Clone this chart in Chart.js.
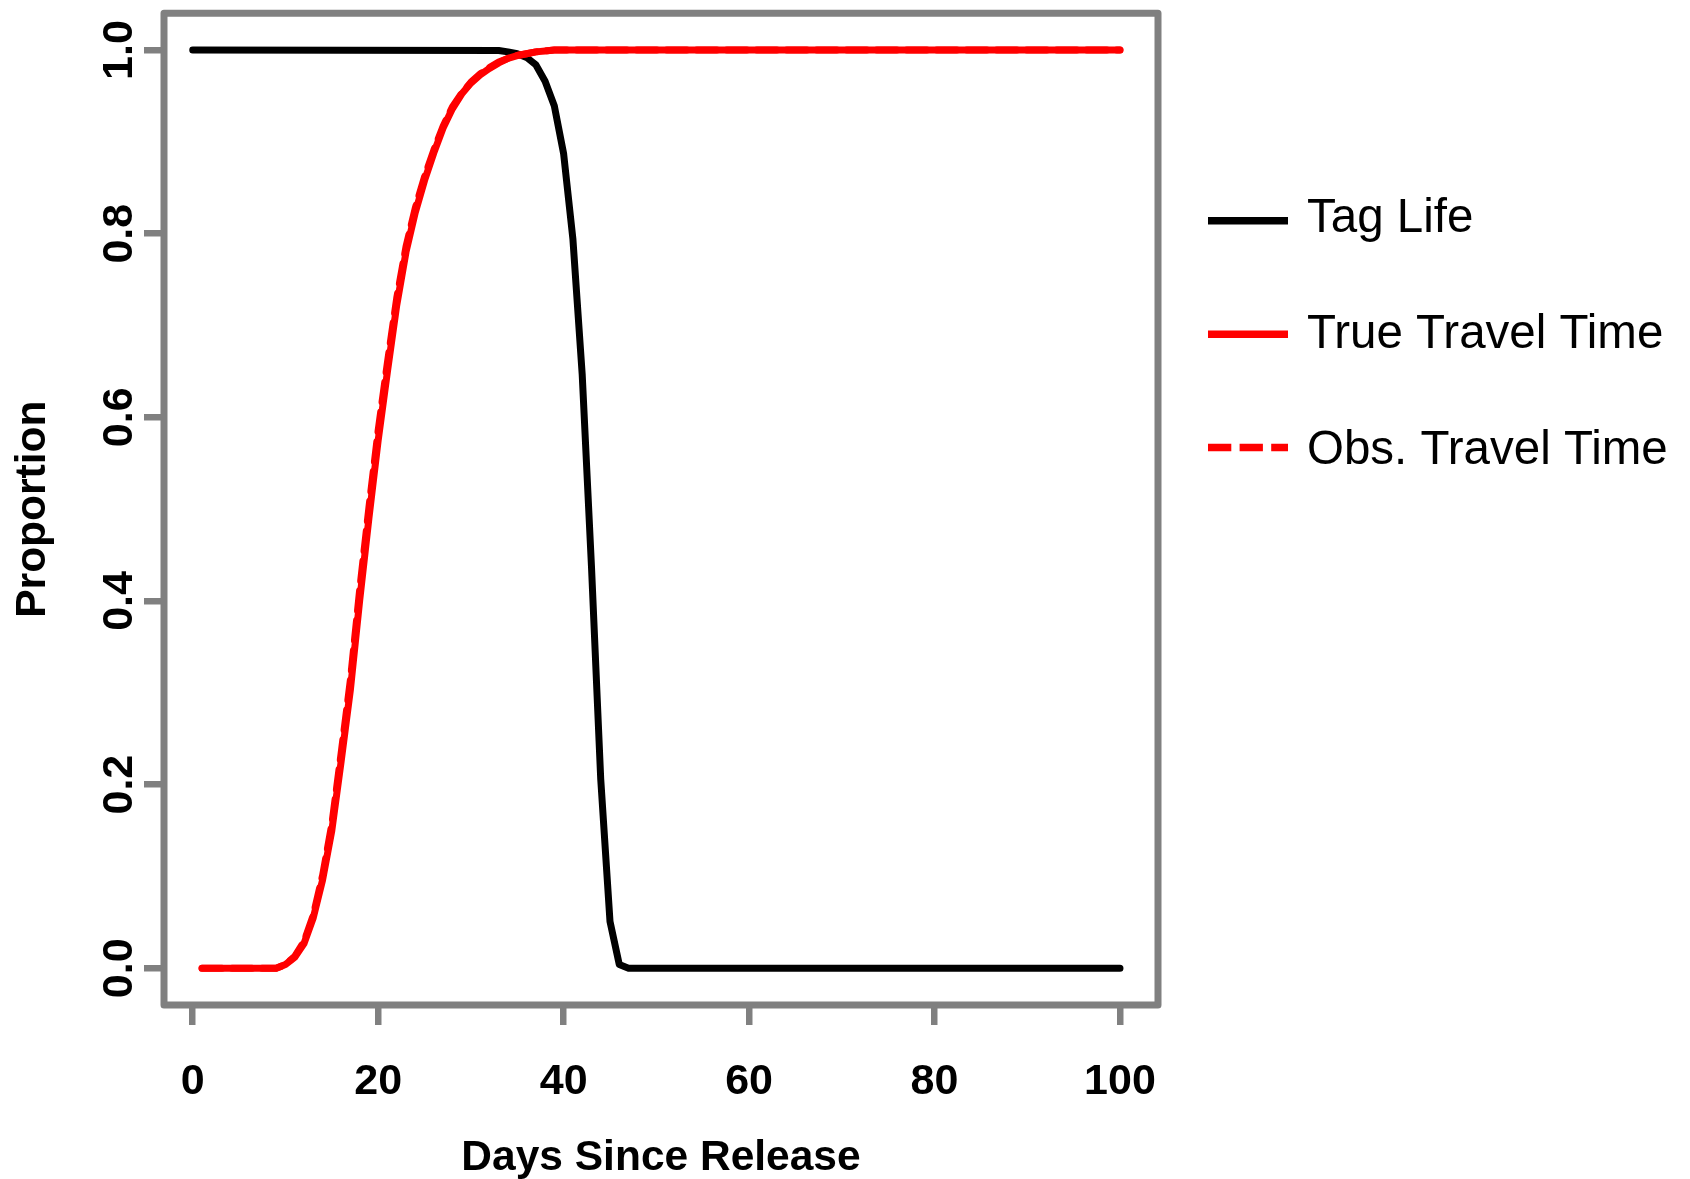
<!DOCTYPE html>
<html>
<head>
<meta charset="utf-8">
<script src="https://cdn.jsdelivr.net/npm/chart.js@4.4.1/dist/chart.umd.min.js"></script>
<style>
  html, body { margin: 0; padding: 0; background: #ffffff; }
  canvas { display: block; }
</style>
</head>
<body>
<canvas id="chart" width="1690" height="1179"></canvas>
<script>
// ---- data ----
const xTickValues = [0, 20, 40, 60, 80, 100];
const yTickValues = [0, 0.2, 0.4, 0.6, 0.8, 1.0];
const yTickLabels = ['0.0', '0.2', '0.4', '0.6', '0.8', '1.0'];
const seriesLabels = ['Tag Life', 'True Travel Time', 'Obs. Travel Time'];

const tagLifeDays   = [0, 33, 34, 35, 36, 37, 38, 39, 40, 41, 42, 43, 44, 45, 46, 47, 100];
const tagLifeValues = [1, 0.9995, 0.998, 0.996, 0.992, 0.984, 0.966, 0.939, 0.887, 0.794, 0.647, 0.438, 0.206, 0.051, 0.004, 0, 0];

const travelDays = [1, 9, 10, 11, 12, 13, 14, 15, 16, 17, 18, 19, 20, 21, 22, 23, 24, 25, 26, 27, 28, 29,
                    30, 31, 32, 33, 34, 35, 36, 37, 38, 39, 100];
const trueTravelValues = [0, 0, 0.004, 0.012, 0.027, 0.055, 0.096, 0.150, 0.225, 0.303, 0.400, 0.490, 0.575,
                          0.650, 0.722, 0.780, 0.823, 0.858, 0.888, 0.915, 0.936, 0.952, 0.964, 0.973, 0.980,
                          0.986, 0.991, 0.994, 0.996, 0.998, 0.999, 1.0, 1.0];
const obsTravelValues  = [0, 0, 0.004, 0.013, 0.029, 0.058, 0.101, 0.157, 0.234, 0.314, 0.412, 0.502, 0.586,
                          0.660, 0.730, 0.786, 0.828, 0.862, 0.891, 0.917, 0.938, 0.953, 0.965, 0.974, 0.981,
                          0.987, 0.991, 0.994, 0.996, 0.998, 0.999, 1.0, 1.0];

// ---- styling ----
const FONT = '"Liberation Sans", Arial, Helvetica, sans-serif';
const GRAY = '#808080';

function toPoints(xs, ys) { return xs.map((x, i) => ({ x: x, y: ys[i] })); }

const boxPlugin = {
  id: 'plotBox',
  beforeDatasetsDraw(chart) {
    const { ctx, chartArea: a } = chart;
    ctx.save();
    ctx.strokeStyle = GRAY;
    ctx.lineWidth = 7;
    ctx.lineJoin = 'round';
    ctx.strokeRect(a.left, a.top, a.right - a.left, a.bottom - a.top);
    ctx.restore();
  }
};

const sideLegendPlugin = {
  id: 'sideLegend',
  afterDraw(chart) {
    const ctx = chart.ctx;
    chart.data.datasets.forEach((ds, i) => {
      const ly = 220.8 + i * 113.4;
      ctx.save();
      ctx.strokeStyle = ds.borderColor;
      ctx.lineWidth = 7.5;
      ctx.lineCap = 'butt';
      ctx.setLineDash(ds.legendDash || []);
      ctx.beginPath();
      ctx.moveTo(1208, ly);
      ctx.lineTo(1288, ly);
      ctx.stroke();
      ctx.setLineDash([]);
      ctx.fillStyle = '#000000';
      ctx.font = '47.5px ' + FONT;
      ctx.textAlign = 'left';
      ctx.textBaseline = 'alphabetic';
      ctx.fillText(ds.label, 1307, 232 + i * 115.8);
      ctx.restore();
    });
  }
};

const tickFont = { family: FONT, size: 43, weight: 'bold', lineHeight: 1 };
const titleFont = { family: FONT, size: 42.5, weight: 'bold', lineHeight: 1 };

new Chart(document.getElementById('chart'), {
  type: 'line',
  data: {
    datasets: [
      {
        label: seriesLabels[0],
        data: toPoints(tagLifeDays, tagLifeValues),
        borderColor: '#000000',
        borderWidth: 7,
        borderCapStyle: 'round',
        borderJoinStyle: 'round',
        order: 3
      },
      {
        label: seriesLabels[1],
        data: toPoints(travelDays, trueTravelValues),
        borderColor: '#ff0000',
        borderWidth: 7,
        borderCapStyle: 'round',
        borderJoinStyle: 'round',
        order: 2
      },
      {
        label: seriesLabels[2],
        data: toPoints(travelDays, obsTravelValues),
        borderColor: '#ff0000',
        borderWidth: 7,
        borderDash: [20, 10],
        borderCapStyle: 'round',
        borderJoinStyle: 'round',
        legendDash: [23.3, 8.3],
        order: 1
      }
    ]
  },
  options: {
    responsive: false,
    animation: false,
    devicePixelRatio: 1,
    layout: { padding: { left: 0, top: 13.3, right: 532, bottom: 0 } },
    elements: { point: { radius: 0, hoverRadius: 0 }, line: { tension: 0, fill: false } },
    plugins: { legend: { display: false }, tooltip: { enabled: false } },
    scales: {
      x: {
        type: 'linear',
        min: -3.1,
        max: 104.1,
        afterBuildTicks: s => { s.ticks = xTickValues.map(v => ({ value: v })); },
        afterFit: s => { s.height = 174; s.paddingLeft = 0; s.paddingRight = 0; },
        grid: { display: true, drawOnChartArea: false, drawTicks: true, tickLength: 20, color: GRAY, lineWidth: 6.5 },
        border: { display: false },
        ticks: {
          color: '#000000', font: tickFont, padding: 35.7,
          minRotation: 0, maxRotation: 0, autoSkip: false,
          callback: v => String(v)
        },
        title: {
          display: true, text: 'Days Since Release', color: '#000000', font: titleFont,
          padding: { top: 0, bottom: -0.8 }
        }
      },
      y: {
        type: 'linear',
        min: -0.04,
        max: 1.04,
        afterBuildTicks: s => { s.ticks = yTickValues.map(v => ({ value: v })); },
        afterFit: s => { s.width = 164; s.paddingTop = 0; s.paddingBottom = 0; },
        grid: { display: true, drawOnChartArea: false, drawTicks: true, tickLength: 20, color: GRAY, lineWidth: 6.5 },
        border: { display: false },
        ticks: {
          color: '#000000', font: tickFont, padding: -5.6,
          minRotation: 90, maxRotation: 90, crossAlign: 'center', autoSkip: false,
          callback: (v, i) => yTickLabels[i]
        },
        title: {
          display: true, text: 'Proportion', color: '#000000', font: titleFont,
          padding: { top: 12.1, bottom: 0 }
        }
      }
    }
  },
  plugins: [boxPlugin, sideLegendPlugin]
});
</script>
</body>
</html>
